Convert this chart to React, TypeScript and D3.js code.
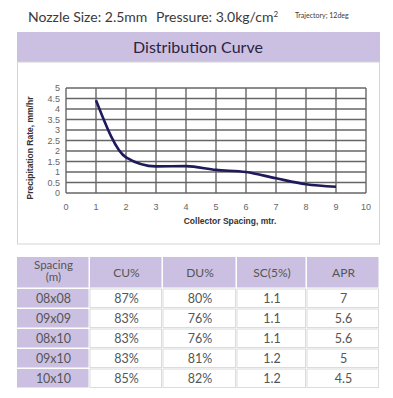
import React, { useEffect, useRef } from 'react'
import * as d3 from 'd3'

// curve data
const spacingX = [1, 2, 3, 4, 5, 6, 7, 8, 9]
const precipRate = [4.42, 1.7, 1.27, 1.28, 1.1, 1.0, 0.7, 0.42, 0.3]

const xTicks = [0, 1, 2, 3, 4, 5, 6, 7, 8, 9, 10]
const yTicks = [0, 0.5, 1, 1.5, 2, 2.5, 3, 3.5, 4, 4.5, 5]

// table data
const tableHeaders = ['Spacing\n(m)', 'CU%', 'DU%', 'SC(5%)', 'APR']
const tableSpacing = ['08x08', '09x09', '08x10', '09x10', '10x10']
const tableCU = ['87%', '83%', '83%', '83%', '85%']
const tableDU = ['80%', '76%', '76%', '81%', '82%']
const tableSC = ['1.1', '1.1', '1.1', '1.2', '1.2']
const tableAPR = ['7', '5.6', '5.6', '5', '4.5']

export default function App() {
  const ref = useRef<SVGSVGElement>(null)

  useEffect(() => {
    const svg = d3.select(ref.current)
    svg.selectAll('*').remove()

    const purple = '#cbc0e2'
    const txt = '#3a3a3a'

    // heading
    svg.append('text')
      .attr('x', 28).attr('y', 22)
      .attr('font-family', 'Lato, sans-serif').attr('font-size', 14)
      .attr('fill', txt)
      .text('Nozzle Size: 2.5mm')
    svg.append('text')
      .attr('x', 156).attr('y', 22)
      .attr('font-family', 'Lato, sans-serif').attr('font-size', 14)
      .attr('fill', txt)
      .text('Pressure: 3.0kg/cm')
      .append('tspan').attr('dy', -5).attr('font-size', 8).text('2')
    svg.append('text')
      .attr('x', 295).attr('y', 18)
      .attr('font-family', 'Lato, sans-serif').attr('font-size', 7)
      .attr('fill', txt)
      .text('Trajectory; 12deg')

    // purple title band
    svg.append('rect')
      .attr('x', 17).attr('y', 32).attr('width', 363).attr('height', 30)
      .attr('fill', purple)
    svg.append('text')
      .attr('x', 198).attr('y', 53)
      .attr('text-anchor', 'middle')
      .attr('font-family', 'Lato, sans-serif').attr('font-size', 16)
      .attr('fill', '#2a2440')
      .text('Distribution Curve')

    // chart panel
    svg.append('rect')
      .attr('x', 17.5).attr('y', 62).attr('width', 362).attr('height', 182)
      .attr('fill', '#fff').attr('stroke', '#d4d4d4')

    const x = d3.scaleLinear().domain([0, 10]).range([66, 366])
    const y = d3.scaleLinear().domain([0, 5]).range([193, 88])

    const grid = svg.append('g')
    grid.selectAll('line.v').data(xTicks).enter().append('line')
      .attr('x1', d => x(d)).attr('x2', d => x(d))
      .attr('y1', y(0)).attr('y2', y(5))
      .attr('stroke', '#666').attr('stroke-width', 1.4)
    grid.selectAll('line.h').data(yTicks).enter().append('line')
      .attr('x1', x(0)).attr('x2', x(10))
      .attr('y1', d => y(d)).attr('y2', d => y(d))
      .attr('stroke', '#666').attr('stroke-width', 1.4)

    // tick labels
    svg.selectAll('text.xt').data(xTicks).enter().append('text')
      .attr('x', d => x(d)).attr('y', 210)
      .attr('text-anchor', 'middle')
      .attr('font-family', 'Liberation Sans, Arial, sans-serif').attr('font-size', 9)
      .attr('fill', '#666')
      .text(d => d)
    svg.selectAll('text.yt').data(yTicks).enter().append('text')
      .attr('x', 60).attr('y', d => y(d) + 3)
      .attr('text-anchor', 'end')
      .attr('font-family', 'Liberation Sans, Arial, sans-serif').attr('font-size', 9)
      .attr('fill', '#666')
      .text(d => d)

    // axis titles
    svg.append('text')
      .attr('x', 230).attr('y', 224)
      .attr('text-anchor', 'middle')
      .attr('font-family', 'Liberation Sans, Arial, sans-serif').attr('font-size', 8.5)
      .attr('font-weight', 'bold').attr('fill', '#333')
      .text('Collector Spacing, mtr.')
    svg.append('text')
      .attr('transform', 'translate(33,148) rotate(-90)')
      .attr('text-anchor', 'middle')
      .attr('font-family', 'Liberation Sans, Arial, sans-serif').attr('font-size', 8.5)
      .attr('font-weight', 'bold').attr('fill', '#333')
      .text('Precipitation Rate, mm/hr')

    // curve
    const line = d3.line<number>()
      .x((d, i) => x(spacingX[i]))
      .y(d => y(d))
      .curve(d3.curveMonotoneX)
    svg.append('path')
      .datum(precipRate)
      .attr('d', line)
      .attr('fill', 'none')
      .attr('stroke', '#1e1a5c')
      .attr('stroke-width', 2.6)

    // table
    const colX = [17, 90, 163, 237, 307, 380]
    const headTop = 257, headBottom = 289, rowH = 20
    const cols = [tableSpacing, tableCU, tableDU, tableSC, tableAPR]
    const tbl = svg.append('g')

    tableHeaders.forEach((h, c) => {
      tbl.append('rect')
        .attr('x', colX[c]).attr('y', headTop)
        .attr('width', colX[c + 1] - colX[c] - 1.5).attr('height', headBottom - headTop - 1.5)
        .attr('fill', purple)
      const lines = h.split('\n')
      const t = tbl.append('text')
        .attr('text-anchor', 'middle')
        .attr('font-family', 'Lato, sans-serif').attr('font-size', lines.length > 1 ? 11.5 : 12)
        .attr('fill', '#555')
      lines.forEach((l, i) => {
        t.append('tspan')
          .attr('x', (colX[c] + colX[c + 1]) / 2)
          .attr('y', lines.length > 1 ? headTop + 12 + i * 12 : (headTop + headBottom) / 2 + 4)
          .text(l)
      })
    })

    tableSpacing.forEach((s, r) => {
      const top = headBottom + r * rowH
      cols.forEach((col, c) => {
        tbl.append('rect')
          .attr('x', colX[c]).attr('y', top)
          .attr('width', colX[c + 1] - colX[c] - 1.5).attr('height', rowH - 1.5)
          .attr('fill', c === 0 ? purple : '#fff')
          .attr('stroke', c === 0 ? 'none' : '#dcdcdc')
          .attr('stroke-width', 1)
        tbl.append('text')
          .attr('x', (colX[c] + colX[c + 1]) / 2)
          .attr('y', top + 14)
          .attr('text-anchor', 'middle')
          .attr('font-family', 'Lato, sans-serif').attr('font-size', 12.5)
          .attr('fill', '#555')
          .text(col[r])
      })
    })
  }, [])

  return (
    <svg ref={ref} width={393} height={398}
      style={{ position: 'absolute', left: 0, top: 0, background: '#fff' }} />
  )
}
